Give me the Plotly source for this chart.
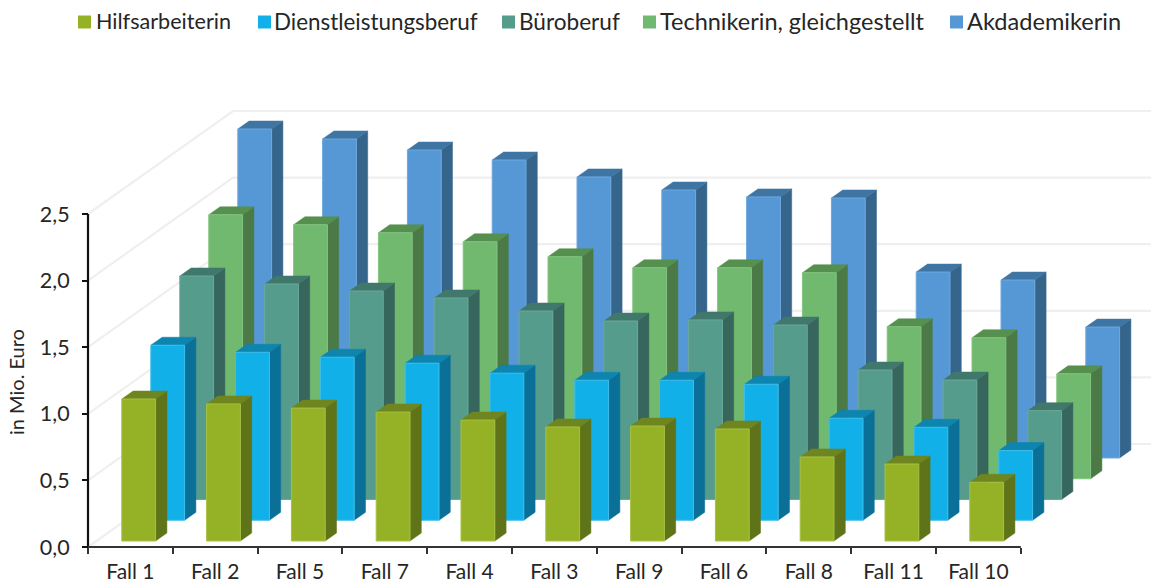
import plotly.graph_objects as go

categories = ["Fall 1", "Fall 2", "Fall 5", "Fall 7", "Fall 4", "Fall 3", "Fall 9", "Fall 6", "Fall 8", "Fall 11", "Fall 10"]
hilfsarbeiterin = [1.066, 1.029, 0.998, 0.968, 0.908, 0.856, 0.863, 0.841, 0.631, 0.578, 0.441]
dienstleistung = [1.314, 1.261, 1.224, 1.179, 1.104, 1.051, 1.051, 1.021, 0.766, 0.698, 0.523]
buero = [1.678, 1.618, 1.565, 1.513, 1.415, 1.340, 1.348, 1.310, 0.972, 0.897, 0.667]
technikerin = [1.982, 1.907, 1.847, 1.779, 1.667, 1.584, 1.584, 1.547, 1.141, 1.059, 0.788]
akademikerin = [2.470, 2.395, 2.312, 2.237, 2.110, 2.012, 1.960, 1.952, 1.396, 1.336, 0.983]
series_names = ["Hilfsarbeiterin", "Dienstleistungsberuf", "Büroberuf", "Technikerin, gleichgestellt", "Akdademikerin"]
y_ticks = [0.0, 0.5, 1.0, 1.5, 2.0, 2.5]

series_values = [hilfsarbeiterin, dienstleistung, buero, technikerin, akademikerin]
front_colors = ["#95b227", "#12b0e9", "#559c8d", "#70b96e", "#5698d6"]
side_colors = ["#5f7318", "#0a7097", "#37665c", "#4b7a46", "#35658a"]
top_colors = ["#6f8520", "#0d85ae", "#40786c", "#55904f", "#3f75a3"]
edge_colors = ["#a6c044", "#3fbeec", "#6ba99b", "#84c482", "#6ea8dd"]

W, H = 1151, 582
PLOT_H = 582.0
CAT_PX, VAL_PX = 84.8, 133.2
X0_PX, Y0_PX = 88.0, 547.0
FONT = "Lato"
TEXT = "#262626"

# oblique projection, in axis units
BAR_W = 33.8 / CAT_PX
BAR_X0 = 33.8 / CAT_PX
BAR_Y0 = 6.0 / VAL_PX
STEP_X = 29.0 / CAT_PX
STEP_Y = 20.75 / VAL_PX
SIDE_X = 11.3 / CAT_PX
SIDE_Y = 8.0 / VAL_PX
WALL_X = 145.0 / CAT_PX
WALL_Y = 103.0 / VAL_PX

x_range = [-X0_PX / CAT_PX, (W - X0_PX) / CAT_PX]
y_range = [-(PLOT_H - Y0_PX) / VAL_PX, Y0_PX / VAL_PX]


def polys(s, values):
    front_x, front_y, side_x, side_y, top_x, top_y = [], [], [], [], [], []
    for c, v in enumerate(values):
        l = c + BAR_X0 + s * STEP_X
        r = l + BAR_W
        b = BAR_Y0 + s * STEP_Y
        t = b + v
        front_x += [l, r, r, l, l, None]
        front_y += [b, b, t, t, b, None]
        side_x += [r, r + SIDE_X, r + SIDE_X, r, r, None]
        side_y += [b, b + SIDE_Y, t + SIDE_Y, t, b, None]
        top_x += [l, r, r + SIDE_X, l + SIDE_X, l, None]
        top_y += [t, t, t + SIDE_Y, t + SIDE_Y, t, None]
    return (front_x, front_y), (side_x, side_y), (top_x, top_y)


fig = go.Figure()

# back wall and floor grid
grid_x, grid_y = [], []
for v in y_ticks:
    grid_x += [0, WALL_X, x_range[1], None]
    grid_y += [v, v + WALL_Y, v + WALL_Y, None]
fig.add_trace(go.Scatter(x=grid_x, y=grid_y, mode="lines", line=dict(color="#efefef", width=2.2),
                         hoverinfo="skip", showlegend=False))

# bars, back to front
for s in range(len(series_values) - 1, -1, -1):
    front, side, top = polys(s, series_values[s])
    for (px, py), fill, line, lw in [
        (side, side_colors[s], side_colors[s], 0.5),
        (top, top_colors[s], top_colors[s], 0.5),
        (front, front_colors[s], edge_colors[s], 1),
    ]:
        fig.add_trace(go.Scatter(x=px, y=py, mode="lines", fill="toself", fillcolor=fill,
                                 line=dict(color=line, width=lw), name=series_names[s],
                                 hoverinfo="skip", showlegend=False))

# axis lines
fig.add_trace(go.Scatter(x=[0, 0], y=[0, y_ticks[-1]], mode="lines", line=dict(color="#111111", width=2.2),
                         hoverinfo="skip", showlegend=False))
fig.add_trace(go.Scatter(x=[0, len(categories)], y=[0, 0], mode="lines", line=dict(color="#333333", width=1.8),
                         hoverinfo="skip", showlegend=False))

shapes, annotations = [], []
swatch_left = [78, 258, 502, 643, 950]
text_left = [94, 272, 517, 658, 965]
legend_sizes = [21.6, 22.4, 22.6, 23.5, 23.6]
for i, name in enumerate(series_names):
    shapes.append(dict(type="rect", xref="paper", yref="paper", line_width=0, fillcolor=front_colors[i],
                       x0=swatch_left[i] / W, x1=(swatch_left[i] + 13) / W,
                       y0=1 - 28.5 / PLOT_H, y1=1 - 15.5 / PLOT_H))
    annotations.append(dict(text=name, xref="paper", yref="paper", x=text_left[i] / W, y=1 - 21.5 / PLOT_H,
                            xanchor="left", yanchor="middle", showarrow=False,
                            font=dict(family=FONT, size=legend_sizes[i], color=TEXT)))
annotations.append(dict(text="in Mio. Euro", xref="paper", yref="paper", x=16 / W, y=1 - 382 / PLOT_H,
                        textangle=-90, xanchor="center", yanchor="middle", showarrow=False,
                        font=dict(family=FONT, size=20, color=TEXT)))

fig.update_layout(
    width=W, height=H, autosize=False, margin=dict(l=0, r=0, t=0, b=0, autoexpand=False),
    paper_bgcolor="white", plot_bgcolor="white", separators=",.", showlegend=False,
    shapes=shapes, annotations=annotations,
    xaxis=dict(range=x_range, domain=[0, 1], showgrid=False, zeroline=False, showline=False,
               automargin=False, anchor="free", position=(PLOT_H - Y0_PX) / PLOT_H,
               tickmode="array", tickvals=[c + 0.5 for c in range(len(categories))], ticktext=categories,
               ticks="outside", ticklen=0, tickfont=dict(family=FONT, size=21, color=TEXT),
               ticklabelstandoff=6,
               minor=dict(tickmode="array", tickvals=list(range(len(categories) + 1)),
                          ticks="outside", ticklen=6, tickcolor="#333333", tickwidth=1.5)),
    yaxis=dict(range=y_range, domain=[0, 1], showgrid=False, zeroline=False, showline=False,
               automargin=False, anchor="free", position=X0_PX / W,
               tickmode="array", tickvals=y_ticks, tickformat=".1f",
               ticks="outside", ticklen=6, tickcolor="#111111", tickwidth=1.5,
               ticklabelstandoff=8,
               tickfont=dict(family=FONT, size=21.5, color=TEXT)),
)

fig.write_html("out.html", config={"displayModeBar": False},
               post_script="document.body.style.margin='0';document.documentElement.style.overflow='hidden';")
